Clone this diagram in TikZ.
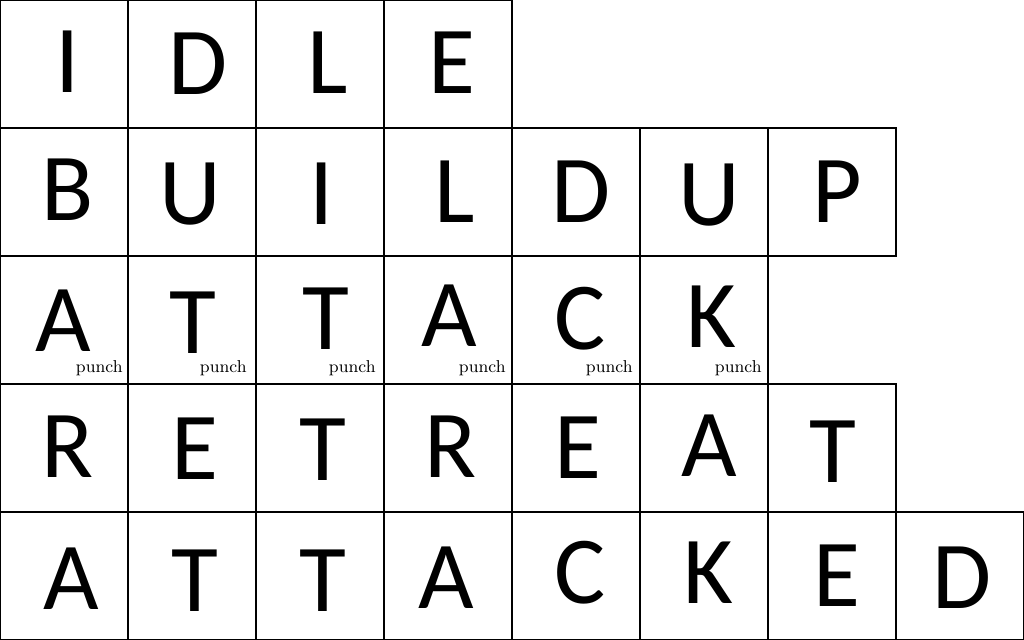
\documentclass[tikz,border=0pt]{standalone}
\usepackage{fontspec}
\newfontfamily\glyphfont{Carlito}

\begin{document}
\begin{tikzpicture}[x=0.5pt,y=-0.5pt,
		cell/.style={draw,line width=1pt,minimum size=64pt,inner sep=0pt,outer sep=0pt},
		glyph/.style={font=\glyphfont\fontsize{48}{48}\selectfont,inner sep=0pt},
		hit/.style={font=\fontsize{8.6}{9}\selectfont,inner sep=0pt,anchor=base east}]
		\useasboundingbox (0,0) rectangle (1024,640);
		\begin{scope}
			% idle
			\foreach \ch/\dx/\dy [count=\i] in {I/4/-2.5,D/6/-0.5,L/8/-1,E/4/-1}{
				\node[cell] (idle\i) at (128*\i-64,64) {};
				\node[glyph] (idleL\i) at ([shift={(\dx,\dy)}]idle\i.center) {\ch};
			}
			% build up
			\foreach \ch/\dx/\dy [count=\i] in {B/4/-2.5,U/-2/2,I/2/1.5,L/7/0,D/5/0,U/5/3,P/5/-0.5}{
				\node[cell] (build\i) at (128*\i-64,192) {};
				\node[glyph] (buildL\i) at ([shift={(\dx,\dy)}]build\i.center) {\ch};
			}
			% attack, each frame a punch
			\foreach \ch/\dx/\dy/\px [count=\i] in {A/-1/1/-5,T/1/2.5/-9,T/5.5/-1.5/-8,A/1/-4/-6,C/4/-1/-7,K/7/-3.5/-6}{
				\node[cell] (atk\i) at (128*\i-64,320) {};
				\node[glyph] (atkL\i) at ([shift={(\dx,\dy)}]atk\i.center) {\ch};
				\node[hit] (atkP\i) at ([shift={(\px,-11)}]atk\i.south east) {punch};
			}
			% retreat
			\foreach \ch/\dx/\dy [count=\i] in {R/4/-1.5,E/3/0.5,T/3/1.5,R/3/-1,E/2/-0.5,A/5/-2.5,T/1/4}{
				\node[cell] (ret\i) at (128*\i-64,448) {};
				\node[glyph] (retL\i) at ([shift={(\dx,\dy)}]ret\i.center) {\ch};
			}
			% attacked
			\foreach \ch/\dx/\dy [count=\i] in {A/7/2.5,T/3/4.5,T/3/4.5,A/-2/2,C/4/-3.5,K/4/-3,E/5/0,D/2/1.5}{
				\node[cell] (hurt\i) at (128*\i-64,576) {};
				\node[glyph] (hurtL\i) at ([shift={(\dx,\dy)}]hurt\i.center) {\ch};
			}
		\end{scope}
	\end{tikzpicture}
\end{document}
